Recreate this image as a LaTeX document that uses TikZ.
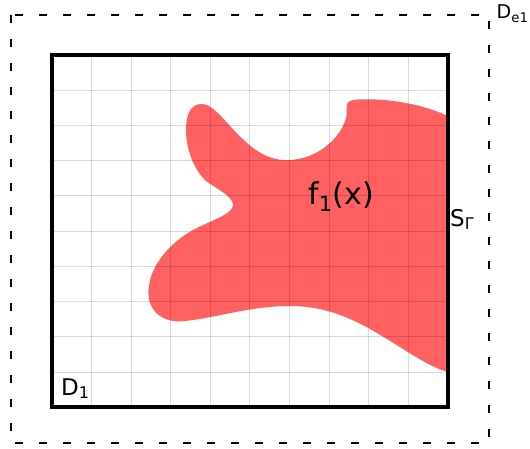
\documentclass[tikz,border=0pt]{standalone}
\usepackage{fontspec}
\setmainfont{DejaVu Sans}
\definecolor{blobred}{RGB}{255,96,96}
\tikzset{
  gridline/.style={black,opacity=.15,line width=.6pt},
  lbl/.style={anchor=base west,inner sep=0pt,font=\fontsize{23}{27}\selectfont}
}
\begin{document}
\begin{tikzpicture}[x=1pt,y=-1pt]
  \useasboundingbox (0,0) rectangle (530,449);
  % source region, cut off by the boundary
  \fill[blobred] (202,104) .. controls (222,104) and (245,162) .. (288,160)
    .. controls (315,160) and (340,140) .. (346,118)
    .. controls (349,109) and (341,100) .. (358,99.5)
    .. controls (390,98) and (425,105) .. (447.5,116)
    -- (447.5,372)
    .. controls (420,364) and (385,334) .. (350,319)
    .. controls (330,310) and (310,306) .. (290,306)
    .. controls (250,306) and (215,318) .. (185,321)
    .. controls (160,324) and (147,308) .. (148.5,290)
    .. controls (150,265) and (170,243) .. (193,230)
    .. controls (212,220) and (233,214) .. (233,205)
    .. controls (233,196) and (215,188) .. (206,181)
    .. controls (196,172) and (186,152) .. (186,130)
    .. controls (186,112) and (192,104) .. cycle;
  \foreach \k in {1,...,9} {
    \draw[gridline] ({52+\k*39.55},55) -- ({52+\k*39.55},407);
    \draw[gridline] (52,{55+\k*35.2}) -- (447.5,{55+\k*35.2});
  }
  \draw[line width=4pt] (52,55) rectangle (447.5,407);
  \draw[line width=1.6pt,dash pattern=on 8pt off 16pt] (11,15) rectangle (489,443);
  \node[lbl] (dom) at (61,395) {D\textsubscript{1}};
  \node[lbl] (bnd) at (450,226) {S\textsubscript{Γ}};
  \node[lbl,font=\fontsize{19}{22}\selectfont] (ext) at (496.5,18.3) {D\textsubscript{e1}};
  \node[lbl,font=\fontsize{30}{34}\selectfont] (fun) at (308,205) {f\textsubscript{1}(x)};
\end{tikzpicture}
\end{document}
